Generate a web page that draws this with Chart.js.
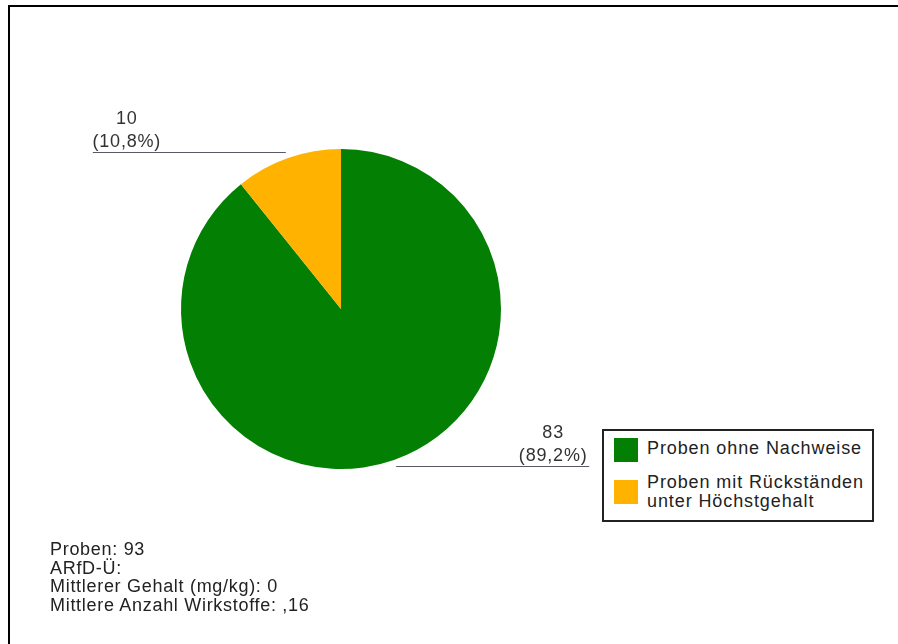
<!DOCTYPE html>
<html>
<head>
<meta charset="utf-8">
<script src="https://cdn.jsdelivr.net/npm/chart.js@4/dist/chart.umd.min.js"></script>
<style>
html,body{margin:0;padding:0;background:#fff;}
#wrap{position:relative;width:898px;height:644px;overflow:hidden;font-family:"Liberation Sans",Arial,sans-serif;}
#frame{position:absolute;left:8px;top:5px;width:900px;height:700px;border-left:2px solid #000;border-top:2px solid #000;box-sizing:border-box;}
#c{position:absolute;left:0;top:0;}
#legend{position:absolute;left:602px;top:429px;width:272px;height:93px;border:2px solid #222;box-sizing:border-box;background:#fff;}
.sw{position:absolute;left:10px;width:24px;height:24px;}
.lt{position:absolute;left:43px;width:226px;font-size:18px;line-height:19px;letter-spacing:0.9px;color:#222;white-space:normal;}
#stats{position:absolute;left:50px;top:540px;font-size:18px;line-height:18.6px;letter-spacing:0.7px;color:#222;}
</style>
</head>
<body>
<div id="wrap">
  <canvas id="c" width="898" height="644"></canvas>
  <div id="frame"></div>
  <div id="legend"></div>
  <div id="stats"></div>
</div>
<script>
// ---- data ----
const categories = ["Proben ohne Nachweise", "Proben mit Rückständen unter Höchstgehalt"];
const values = [83, 10];
const colors = ["#038003", "#FFB200"];
const statLines = ["Proben: 93", "ARfD-Ü:", "Mittlerer Gehalt (mg/kg): 0", "Mittlere Anzahl Wirkstoffe: ,16"];

// ---- legend (HTML) ----
const legend = document.getElementById('legend');
const legendTops = [{sw: 7, txt: 7.5}, {sw: 49, txt: 41.5}];
categories.forEach((cat, i) => {
  const sw = document.createElement('div');
  sw.className = 'sw';
  sw.style.top = legendTops[i].sw + 'px';
  sw.style.background = colors[i];
  legend.appendChild(sw);
  const t = document.createElement('div');
  t.className = 'lt';
  t.style.top = legendTops[i].txt + 'px';
  t.textContent = cat;
  legend.appendChild(t);
});

// ---- stats text ----
document.getElementById('stats').innerHTML = statLines.map(s => '<div>' + s.replace(/&/g,'&amp;') + '</div>').join('');

// ---- slice labels plugin ----
const sliceLabels = {
  id: 'sliceLabels',
  afterDatasetsDraw(chart) {
    const ctx = chart.ctx;
    const meta = chart.getDatasetMeta(0);
    const data = chart.data.datasets[0].data;
    const total = data.reduce((a, b) => a + b, 0);
    ctx.save();
    meta.data.forEach((arc, i) => {
      const p = arc.getProps(['x', 'y', 'startAngle', 'endAngle', 'outerRadius'], true);
      const mid = (p.startAngle + p.endAngle) / 2;
      const r = p.outerRadius + 6.5;
      const px = p.x + Math.cos(mid) * r;
      const py = Math.round(p.y + Math.sin(mid) * r) + 0.5;
      const left = Math.cos(mid) < 0;
      const len = 193;
      const ex = left ? px - len : px + len;
      ctx.strokeStyle = '#5a5a66';
      ctx.lineWidth = 1;
      ctx.beginPath();
      ctx.moveTo(px, py);
      ctx.lineTo(ex, py);
      ctx.stroke();
      const pct = (data[i] / total * 100).toFixed(1).replace('.', ',');
      const cx = left ? ex + 34 : ex - 36;
      ctx.fillStyle = '#333';
      ctx.font = '18px "Liberation Sans", Arial, sans-serif';
      if ('letterSpacing' in ctx) ctx.letterSpacing = '0.8px';
      ctx.textAlign = 'center';
      ctx.textBaseline = 'alphabetic';
      ctx.fillText(String(data[i]), cx, py - 28.5);
      ctx.fillText('(' + pct + '%)', cx, py - 5.5);
    });
    ctx.restore();
  }
};

new Chart(document.getElementById('c'), {
  type: 'pie',
  data: {
    labels: categories,
    datasets: [{
      data: values,
      backgroundColor: colors,
      borderWidth: 0
    }]
  },
  options: {
    responsive: false,
    animation: false,
    layout: { padding: { left: 181, right: 397, top: 149, bottom: 175 } },
    plugins: {
      legend: { display: false },
      tooltip: { enabled: false },
      title: { display: false }
    }
  },
  plugins: [sliceLabels]
});
</script>
</body>
</html>
